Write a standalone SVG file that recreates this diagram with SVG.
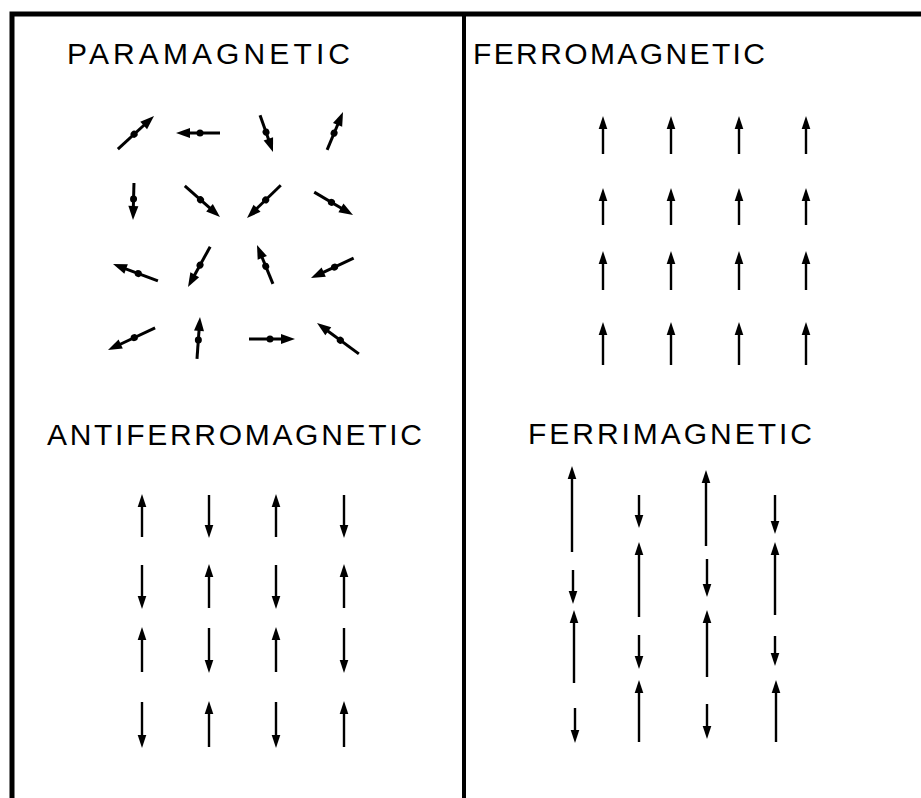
<svg xmlns="http://www.w3.org/2000/svg" width="921" height="798" viewBox="0 0 921 798">
  <style>
    .frame { stroke: #000; stroke-width: 5; fill: none; }
    .div { stroke: #000; stroke-width: 4; fill: none; }
    .title { font-family: "Liberation Sans", Arial, sans-serif; font-size: 30px; fill: #000; }
    .pa line { stroke: #000; stroke-width: 3; }
    .pa polygon, .pa circle { fill: #000; }
    .va { stroke: #000; stroke-width: 2.4; marker-end: url(#head); }
  </style>
  <defs>
    <marker id="head" markerUnits="userSpaceOnUse" viewBox="0 -5 13 10" markerWidth="13" markerHeight="10" refX="2" refY="0" orient="auto">
      <path d="M0,-4.3 L13,0 L0,4.3 z" fill="#000"/>
    </marker>
  </defs>
  <rect width="921" height="798" fill="#fff"/>

  <g id="frame">
    <path class="frame" d="M12,798 L12,14 L921,14"/>
    <line class="div" x1="464" y1="14" x2="464" y2="798"/>
  </g>

  <g id="paramagnetic">
    <text class="title" x="67" y="64" textLength="283" lengthAdjust="spacing">PARAMAGNETIC</text>
    <g class="pa">
      <g transform="translate(154,116) rotate(-42.5)"><line x1="-49" y1="0" x2="-10" y2="0"/><circle cx="-27" cy="0" r="3.5"/><polygon points="0,0 -14,-5 -14,5"/></g>
      <g transform="translate(176,133) rotate(180)"><line x1="-44" y1="0" x2="-10" y2="0"/><circle cx="-24" cy="0" r="3.5"/><polygon points="0,0 -14,-5 -14,5"/></g>
      <g transform="translate(273,152) rotate(70.6)"><line x1="-39" y1="0" x2="-10" y2="0"/><circle cx="-21" cy="0" r="3.5"/><polygon points="0,0 -14,-5 -14,5"/></g>
      <g transform="translate(343,112) rotate(-67.2)"><line x1="-41" y1="0" x2="-10" y2="0"/><circle cx="-23" cy="0" r="3.5"/><polygon points="0,0 -14,-5 -14,5"/></g>
      <g transform="translate(133,220) rotate(91.5)"><line x1="-37" y1="0" x2="-10" y2="0"/><circle cx="-21" cy="0" r="3.5"/><polygon points="0,0 -14,-5 -14,5"/></g>
      <g transform="translate(220,217) rotate(41.5)"><line x1="-47" y1="0" x2="-10" y2="0"/><circle cx="-26" cy="0" r="3.5"/><polygon points="0,0 -14,-5 -14,5"/></g>
      <g transform="translate(247,218) rotate(135.9)"><line x1="-47" y1="0" x2="-10" y2="0"/><circle cx="-26" cy="0" r="3.5"/><polygon points="0,0 -14,-5 -14,5"/></g>
      <g transform="translate(353,215) rotate(30.5)"><line x1="-45" y1="0" x2="-10" y2="0"/><circle cx="-25" cy="0" r="3.5"/><polygon points="0,0 -14,-5 -14,5"/></g>
      <g transform="translate(113,264) rotate(-159.3)"><line x1="-48" y1="0" x2="-10" y2="0"/><circle cx="-27" cy="0" r="3.5"/><polygon points="0,0 -14,-5 -14,5"/></g>
      <g transform="translate(188,287) rotate(118.8)"><line x1="-46" y1="0" x2="-10" y2="0"/><circle cx="-25" cy="0" r="3.5"/><polygon points="0,0 -14,-5 -14,5"/></g>
      <g transform="translate(257,245) rotate(-112.3)"><line x1="-42" y1="0" x2="-10" y2="0"/><circle cx="-23" cy="0" r="3.5"/><polygon points="0,0 -14,-5 -14,5"/></g>
      <g transform="translate(311,278) rotate(155.1)"><line x1="-47" y1="0" x2="-10" y2="0"/><circle cx="-26" cy="0" r="3.5"/><polygon points="0,0 -14,-5 -14,5"/></g>
      <g transform="translate(108,350) rotate(154.9)"><line x1="-52" y1="0" x2="-10" y2="0"/><circle cx="-29" cy="0" r="3.5"/><polygon points="0,0 -14,-5 -14,5"/></g>
      <g transform="translate(200,317) rotate(-85.9)"><line x1="-42" y1="0" x2="-10" y2="0"/><circle cx="-23" cy="0" r="3.5"/><polygon points="0,0 -14,-5 -14,5"/></g>
      <g transform="translate(295,339) rotate(0)"><line x1="-46" y1="0" x2="-10" y2="0"/><circle cx="-25" cy="0" r="3.5"/><polygon points="0,0 -14,-5 -14,5"/></g>
      <g transform="translate(317,323) rotate(-143.6)"><line x1="-52" y1="0" x2="-10" y2="0"/><circle cx="-29" cy="0" r="3.5"/><polygon points="0,0 -14,-5 -14,5"/></g>
    </g>
  </g>

  <g id="ferromagnetic">
    <text class="title" x="473" y="64" textLength="292" lengthAdjust="spacing">FERROMAGNETIC</text>
    <line class="va" x1="603" y1="154" x2="603" y2="127"/>
    <line class="va" x1="671" y1="154" x2="671" y2="127"/>
    <line class="va" x1="739" y1="154" x2="739" y2="127"/>
    <line class="va" x1="806" y1="154" x2="806" y2="127"/>
    <line class="va" x1="603" y1="225" x2="603" y2="199"/>
    <line class="va" x1="671" y1="225" x2="671" y2="199"/>
    <line class="va" x1="739" y1="225" x2="739" y2="199"/>
    <line class="va" x1="806" y1="225" x2="806" y2="199"/>
    <line class="va" x1="603" y1="290" x2="603" y2="262"/>
    <line class="va" x1="671" y1="290" x2="671" y2="262"/>
    <line class="va" x1="739" y1="290" x2="739" y2="262"/>
    <line class="va" x1="806" y1="290" x2="806" y2="262"/>
    <line class="va" x1="603" y1="365" x2="603" y2="333"/>
    <line class="va" x1="671" y1="365" x2="671" y2="333"/>
    <line class="va" x1="739" y1="365" x2="739" y2="333"/>
    <line class="va" x1="806" y1="365" x2="806" y2="333"/>
  </g>

  <g id="antiferromagnetic">
    <text class="title" x="47" y="445" textLength="375" lengthAdjust="spacing">ANTIFERROMAGNETIC</text>
    <line class="va" x1="142" y1="537" x2="142" y2="505"/>
    <line class="va" x1="209" y1="495" x2="209" y2="527"/>
    <line class="va" x1="276" y1="537" x2="276" y2="505"/>
    <line class="va" x1="344" y1="495" x2="344" y2="527"/>
    <line class="va" x1="142" y1="565" x2="142" y2="598"/>
    <line class="va" x1="209" y1="608" x2="209" y2="575"/>
    <line class="va" x1="276" y1="565" x2="276" y2="598"/>
    <line class="va" x1="344" y1="608" x2="344" y2="575"/>
    <line class="va" x1="142" y1="672" x2="142" y2="638"/>
    <line class="va" x1="209" y1="628" x2="209" y2="662"/>
    <line class="va" x1="276" y1="672" x2="276" y2="638"/>
    <line class="va" x1="344" y1="628" x2="344" y2="662"/>
    <line class="va" x1="142" y1="702" x2="142" y2="737"/>
    <line class="va" x1="209" y1="747" x2="209" y2="712"/>
    <line class="va" x1="276" y1="702" x2="276" y2="737"/>
    <line class="va" x1="344" y1="747" x2="344" y2="712"/>
  </g>

  <g id="ferrimagnetic">
    <text class="title" x="528" y="444" textLength="284" lengthAdjust="spacing">FERRIMAGNETIC</text>
    <line class="va" x1="572" y1="552" x2="572" y2="477"/>
    <line class="va" x1="573" y1="570" x2="573" y2="593"/>
    <line class="va" x1="574" y1="683" x2="574" y2="621"/>
    <line class="va" x1="575" y1="708" x2="575" y2="732"/>
    <line class="va" x1="639" y1="495" x2="639" y2="517"/>
    <line class="va" x1="639" y1="617" x2="639" y2="553"/>
    <line class="va" x1="639" y1="635" x2="639" y2="658"/>
    <line class="va" x1="639" y1="742" x2="639" y2="691"/>
    <line class="va" x1="706" y1="546" x2="706" y2="481"/>
    <line class="va" x1="707" y1="559" x2="707" y2="586"/>
    <line class="va" x1="707" y1="677" x2="707" y2="621"/>
    <line class="va" x1="707" y1="704" x2="707" y2="728"/>
    <line class="va" x1="775" y1="495" x2="775" y2="523"/>
    <line class="va" x1="775" y1="615" x2="775" y2="553"/>
    <line class="va" x1="775" y1="636" x2="775" y2="655"/>
    <line class="va" x1="776" y1="742" x2="776" y2="691"/>
  </g>
</svg>
